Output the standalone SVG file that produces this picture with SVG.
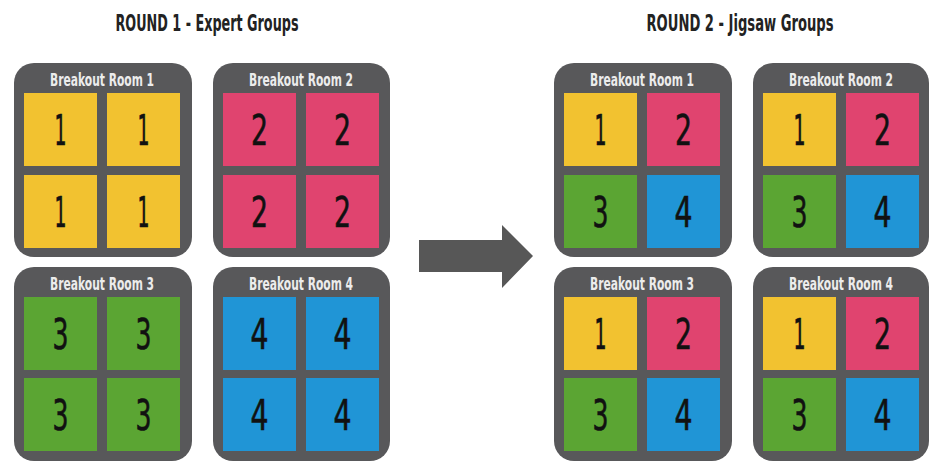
<svg xmlns="http://www.w3.org/2000/svg" width="929" height="462" viewBox="0 0 929 462">
<defs>
<style>
.bg{fill:#ffffff}
.box{fill:#58585a}
.rt{font-family:"DejaVu Sans Condensed","Liberation Sans Narrow","Liberation Sans",sans-serif;font-weight:bold;font-size:18px;fill:#ececec;text-anchor:middle}
.hd{font-family:"DejaVu Sans Condensed","Liberation Sans Narrow","Liberation Sans",sans-serif;font-weight:bold;font-size:23px;fill:#222222;text-anchor:middle}
.num{font-family:"DejaVu Sans Condensed","Liberation Sans Narrow","Liberation Sans",sans-serif;font-weight:normal;font-size:42px;fill:#111111;text-anchor:middle;stroke:#111111;stroke-width:0.6}
.y{fill:#f2c230}
.p{fill:#e0446f}
.g{fill:#5ba533}
.b{fill:#2095d6}
.arrow{fill:#575757}
</style>
</defs>
<rect class="bg" x="0" y="0" width="929" height="462"/>

<text class="hd" x="207" y="31" textLength="183" lengthAdjust="spacingAndGlyphs">ROUND 1 - Expert Groups</text>
<text class="hd" x="740" y="31" textLength="187" lengthAdjust="spacingAndGlyphs">ROUND 2 - Jigsaw Groups</text>

<!-- Round 1 -->
<g id="r1-room1" transform="translate(14,63)">
<rect class="box" width="178" height="194" rx="20"/>
<text class="rt" x="88" y="23" textLength="104" lengthAdjust="spacingAndGlyphs">Breakout Room 1</text>
<rect class="y" x="10" y="30" width="73" height="73"/><text class="num" x="46.5" y="82" textLength="12" lengthAdjust="spacingAndGlyphs">1</text>
<rect class="y" x="93" y="30" width="73" height="73"/><text class="num" x="129.5" y="82" textLength="12" lengthAdjust="spacingAndGlyphs">1</text>
<rect class="y" x="10" y="112" width="73" height="73"/><text class="num" x="46.5" y="164" textLength="12" lengthAdjust="spacingAndGlyphs">1</text>
<rect class="y" x="93" y="112" width="73" height="73"/><text class="num" x="129.5" y="164" textLength="12" lengthAdjust="spacingAndGlyphs">1</text>
</g>
<g id="r1-room2" transform="translate(213,63)">
<rect class="box" width="177" height="194" rx="20"/>
<text class="rt" x="88" y="23" textLength="104" lengthAdjust="spacingAndGlyphs">Breakout Room 2</text>
<rect class="p" x="10" y="30" width="73" height="73"/><text class="num" x="46.5" y="82" textLength="17" lengthAdjust="spacingAndGlyphs">2</text>
<rect class="p" x="93" y="30" width="73" height="73"/><text class="num" x="129.5" y="82" textLength="17" lengthAdjust="spacingAndGlyphs">2</text>
<rect class="p" x="10" y="112" width="73" height="73"/><text class="num" x="46.5" y="164" textLength="17" lengthAdjust="spacingAndGlyphs">2</text>
<rect class="p" x="93" y="112" width="73" height="73"/><text class="num" x="129.5" y="164" textLength="17" lengthAdjust="spacingAndGlyphs">2</text>
</g>
<g id="r1-room3" transform="translate(14,267)">
<rect class="box" width="178" height="194" rx="20"/>
<text class="rt" x="88" y="23" textLength="104" lengthAdjust="spacingAndGlyphs">Breakout Room 3</text>
<rect class="g" x="10" y="30" width="73" height="73"/><text class="num" x="46.5" y="82" textLength="16" lengthAdjust="spacingAndGlyphs">3</text>
<rect class="g" x="93" y="30" width="73" height="73"/><text class="num" x="129.5" y="82" textLength="16" lengthAdjust="spacingAndGlyphs">3</text>
<rect class="g" x="10" y="111" width="73" height="73"/><text class="num" x="46.5" y="163" textLength="16" lengthAdjust="spacingAndGlyphs">3</text>
<rect class="g" x="93" y="111" width="73" height="73"/><text class="num" x="129.5" y="163" textLength="16" lengthAdjust="spacingAndGlyphs">3</text>
</g>
<g id="r1-room4" transform="translate(213,267)">
<rect class="box" width="177" height="194" rx="20"/>
<text class="rt" x="88" y="23" textLength="104" lengthAdjust="spacingAndGlyphs">Breakout Room 4</text>
<rect class="b" x="10" y="30" width="73" height="73"/><text class="num" x="46.5" y="82" textLength="18" lengthAdjust="spacingAndGlyphs">4</text>
<rect class="b" x="93" y="30" width="73" height="73"/><text class="num" x="129.5" y="82" textLength="18" lengthAdjust="spacingAndGlyphs">4</text>
<rect class="b" x="10" y="111" width="73" height="73"/><text class="num" x="46.5" y="163" textLength="18" lengthAdjust="spacingAndGlyphs">4</text>
<rect class="b" x="93" y="111" width="73" height="73"/><text class="num" x="129.5" y="163" textLength="18" lengthAdjust="spacingAndGlyphs">4</text>
</g>

<!-- Round 2 -->
<g id="r2-room1" transform="translate(554,63)">
<rect class="box" width="178" height="194" rx="20"/>
<text class="rt" x="88" y="23" textLength="104" lengthAdjust="spacingAndGlyphs">Breakout Room 1</text>
<rect class="y" x="10" y="30" width="73" height="73"/><text class="num" x="46.5" y="82" textLength="12" lengthAdjust="spacingAndGlyphs">1</text>
<rect class="p" x="93" y="30" width="73" height="73"/><text class="num" x="129.5" y="82" textLength="17" lengthAdjust="spacingAndGlyphs">2</text>
<rect class="g" x="10" y="112" width="73" height="73"/><text class="num" x="46.5" y="164" textLength="16" lengthAdjust="spacingAndGlyphs">3</text>
<rect class="b" x="93" y="112" width="73" height="73"/><text class="num" x="129.5" y="164" textLength="18" lengthAdjust="spacingAndGlyphs">4</text>
</g>
<g id="r2-room2" transform="translate(753,63)">
<rect class="box" width="176" height="194" rx="20"/>
<text class="rt" x="88" y="23" textLength="104" lengthAdjust="spacingAndGlyphs">Breakout Room 2</text>
<rect class="y" x="10" y="30" width="73" height="73"/><text class="num" x="46.5" y="82" textLength="12" lengthAdjust="spacingAndGlyphs">1</text>
<rect class="p" x="93" y="30" width="73" height="73"/><text class="num" x="129.5" y="82" textLength="17" lengthAdjust="spacingAndGlyphs">2</text>
<rect class="g" x="10" y="112" width="73" height="73"/><text class="num" x="46.5" y="164" textLength="16" lengthAdjust="spacingAndGlyphs">3</text>
<rect class="b" x="93" y="112" width="73" height="73"/><text class="num" x="129.5" y="164" textLength="18" lengthAdjust="spacingAndGlyphs">4</text>
</g>
<g id="r2-room3" transform="translate(554,267)">
<rect class="box" width="178" height="194" rx="20"/>
<text class="rt" x="88" y="23" textLength="104" lengthAdjust="spacingAndGlyphs">Breakout Room 3</text>
<rect class="y" x="10" y="30" width="73" height="73"/><text class="num" x="46.5" y="82" textLength="12" lengthAdjust="spacingAndGlyphs">1</text>
<rect class="p" x="93" y="30" width="73" height="73"/><text class="num" x="129.5" y="82" textLength="17" lengthAdjust="spacingAndGlyphs">2</text>
<rect class="g" x="10" y="111" width="73" height="73"/><text class="num" x="46.5" y="163" textLength="16" lengthAdjust="spacingAndGlyphs">3</text>
<rect class="b" x="93" y="111" width="73" height="73"/><text class="num" x="129.5" y="163" textLength="18" lengthAdjust="spacingAndGlyphs">4</text>
</g>
<g id="r2-room4" transform="translate(753,267)">
<rect class="box" width="176" height="194" rx="20"/>
<text class="rt" x="88" y="23" textLength="104" lengthAdjust="spacingAndGlyphs">Breakout Room 4</text>
<rect class="y" x="10" y="30" width="73" height="73"/><text class="num" x="46.5" y="82" textLength="12" lengthAdjust="spacingAndGlyphs">1</text>
<rect class="p" x="93" y="30" width="73" height="73"/><text class="num" x="129.5" y="82" textLength="17" lengthAdjust="spacingAndGlyphs">2</text>
<rect class="g" x="10" y="111" width="73" height="73"/><text class="num" x="46.5" y="163" textLength="16" lengthAdjust="spacingAndGlyphs">3</text>
<rect class="b" x="93" y="111" width="73" height="73"/><text class="num" x="129.5" y="163" textLength="18" lengthAdjust="spacingAndGlyphs">4</text>
</g>

<g id="connectors">
<polygon class="arrow" points="419,240 502,240 502,225 533,256 502,288 502,272 419,272"/>
</g>
</svg>
